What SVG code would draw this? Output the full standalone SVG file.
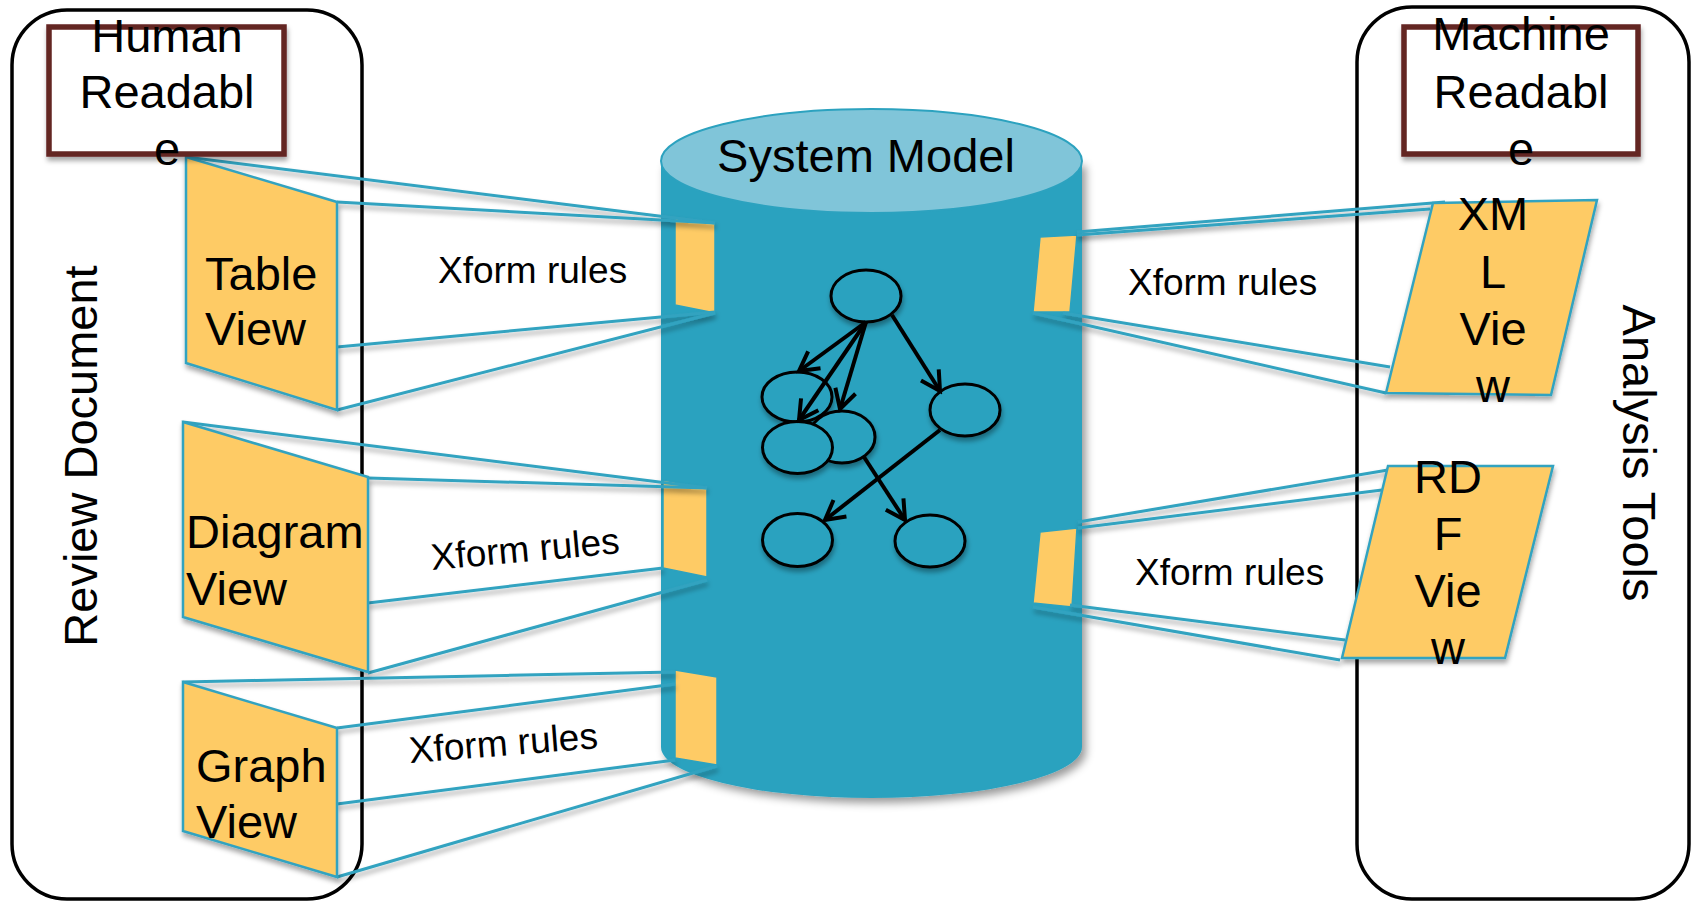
<svg xmlns="http://www.w3.org/2000/svg" width="1691" height="902" viewBox="0 0 1691 902">
<defs>
<filter id="sh" filterUnits="userSpaceOnUse" x="0" y="0" width="1691" height="902"><feDropShadow dx="1" dy="4" stdDeviation="2.5" flood-color="#000" flood-opacity="0.35"/></filter>
<filter id="shc" filterUnits="userSpaceOnUse" x="0" y="0" width="1691" height="902"><feDropShadow dx="4" dy="5" stdDeviation="4" flood-color="#000" flood-opacity="0.4"/></filter>
<marker id="arr" viewBox="-24 -15 28 30" refX="0" refY="0" markerWidth="28" markerHeight="30" markerUnits="userSpaceOnUse" orient="auto"><path d="M-19,-10.5 L0,0 L-19,10.5" fill="none" stroke="#000" stroke-width="4"/></marker>
</defs>
<style>
text{font-family:"Liberation Sans",Arial,sans-serif;fill:#000}
.big{font-size:47px}
.xf{font-size:37px}
.mid{text-anchor:middle}
.cont{fill:none;stroke:#000;stroke-width:3.5}
.box{fill:#fff;stroke:#632523;stroke-width:5.5}
.view{fill:#fecb65;stroke:#33a3c0;stroke-width:2.5}
.port{fill:#fecb65;stroke:#2ca2bf;stroke-width:1.5}
.ln{stroke:#33a3c0;stroke-width:3;fill:none}
.nd{fill:#2ca2bf;stroke:#000;stroke-width:3}
.ar{stroke:#000;stroke-width:4;fill:none;marker-end:url(#arr)}
</style>
<rect width="1691" height="902" fill="#fff"/>

<g id="review-document">
<rect class="cont" x="12" y="10" width="350" height="889" rx="55" ry="55"/>
<text class="big mid" transform="translate(97,456) rotate(-90)">Review Document</text>
</g>
<g id="analysis-tools">
<rect class="cont" x="1357" y="7" width="332" height="892" rx="55" ry="55"/>
<text class="big mid" transform="translate(1623,453) rotate(90)">Analysis Tools</text>
</g>

<g id="system-model">
<path d="M661,161 L661,747 A210.5,51 0 0 0 1082,747 L1082,161 Z" fill="#2ca2bf" filter="url(#shc)"/>
<ellipse cx="871.5" cy="161" rx="210.5" ry="52" fill="#80c5d9" stroke="#2ca2bf" stroke-width="2"/>
<text class="big mid" x="866" y="172">System Model</text>
</g>

<g id="model-nodes" filter="url(#sh)">
<ellipse id="n1" class="nd" cx="866" cy="296" rx="35" ry="26"/>
<ellipse id="n3" class="nd" cx="842" cy="437" rx="33" ry="26"/>
<ellipse id="n2" class="nd" cx="797" cy="397" rx="35" ry="25"/>
<ellipse id="n4" class="nd" cx="797.5" cy="447.5" rx="35" ry="26"/>
<ellipse id="n5" class="nd" cx="965" cy="410" rx="35" ry="26"/>
<ellipse id="n6" class="nd" cx="797.5" cy="540" rx="35" ry="26.5"/>
<ellipse id="n7" class="nd" cx="930" cy="541" rx="35" ry="26"/>
</g>

<g id="ports">
<polygon id="port-table" class="port" points="675,217 715,223 715,313 675,305"/>
<polygon id="port-diagram" class="port" points="663,480 707,488 707,577 663,568"/>
<polygon id="port-graph" class="port" points="675,670 717,677 717,765 675,758"/>
<polygon id="port-xml" class="port" points="1040,237 1077,235 1070,312 1033,312"/>
<polygon id="port-rdf" class="port" points="1040,532 1077,528 1072,607 1033,603"/>
</g>

<g id="connectors">
<g filter="url(#sh)">
<line class="ln" x1="186" y1="157" x2="715" y2="223"/>
<line class="ln" x1="337" y1="202" x2="715" y2="223"/>
<line class="ln" x1="337" y1="347" x2="715" y2="312"/>
<line class="ln" x1="337" y1="410" x2="715" y2="313"/>
<line class="ln" x1="183" y1="422" x2="707" y2="488"/>
<line class="ln" x1="368" y1="478" x2="707" y2="488"/>
<line class="ln" x1="368" y1="603" x2="663" y2="568"/>
<line class="ln" x1="368" y1="673" x2="707" y2="580"/>
<line class="ln" x1="183" y1="682" x2="675" y2="672"/>
<line class="ln" x1="337" y1="728" x2="675" y2="684"/>
<line class="ln" x1="337" y1="804" x2="675" y2="760"/>
<line class="ln" x1="337" y1="877" x2="717" y2="766"/>
<line class="ln" x1="1077" y1="232" x2="1445" y2="202"/>
<line class="ln" x1="1077" y1="235" x2="1430" y2="209"/>
<line class="ln" x1="1063" y1="313" x2="1390" y2="367"/>
<line class="ln" x1="1033" y1="313" x2="1386" y2="393"/>
<line class="ln" x1="1078" y1="522" x2="1388" y2="470"/>
<line class="ln" x1="1078" y1="528" x2="1382" y2="490"/>
<line class="ln" x1="1070" y1="605" x2="1345" y2="640"/>
<line class="ln" x1="1033" y1="607" x2="1340" y2="660"/>
</g>
<g id="model-arrows">
<line class="ar" x1="866" y1="322" x2="799" y2="371"/>
<line class="ar" x1="866" y1="322" x2="799" y2="420"/>
<line class="ar" x1="866" y1="322" x2="840" y2="409"/>
<line class="ar" x1="892" y1="315" x2="940" y2="391"/>
<line class="ar" x1="940" y1="430" x2="825" y2="520"/>
<line class="ar" x1="864" y1="457" x2="905" y2="520"/>
</g>
</g>

<g id="table-view">
<polygon class="view" points="186,157 337,202 337,410 186,363" filter="url(#sh)"/>
<text class="big" x="205" y="290">Table</text>
<text class="big" x="205" y="345">View</text>
</g>
<g id="diagram-view">
<polygon class="view" points="183,422 368,477 368,672 183,617" filter="url(#sh)"/>
<text class="big" x="186" y="548">Diagram</text>
<text class="big" x="186" y="605">View</text>
</g>
<g id="graph-view">
<polygon class="view" points="183,682 337,728 337,877 183,831" filter="url(#sh)"/>
<text class="big" x="196" y="782">Graph</text>
<text class="big" x="196" y="838">View</text>
</g>
<g id="xml-view">
<polygon class="view" points="1433,203 1597,200 1551,395 1386,393" filter="url(#sh)"/>
<text class="big mid" x="1493" y="230">XM</text>
<text class="big mid" x="1493" y="288">L</text>
<text class="big mid" x="1493" y="345">Vie</text>
<text class="big mid" x="1493" y="402">w</text>
</g>
<g id="rdf-view">
<polygon class="view" points="1388,466 1553,466 1505,658 1342,658" filter="url(#sh)"/>
<text class="big mid" x="1448" y="493">RD</text>
<text class="big mid" x="1448" y="550">F</text>
<text class="big mid" x="1448" y="607">Vie</text>
<text class="big mid" x="1448" y="664">w</text>
</g>

<g id="human-readable">
<rect class="box" x="49" y="27" width="235" height="127" filter="url(#sh)"/>
<text class="big mid" x="167" y="52">Human</text>
<text class="big mid" x="167" y="108">Readabl</text>
<text class="big mid" x="167" y="165">e</text>
</g>
<g id="machine-readable">
<rect class="box" x="1404" y="27" width="234" height="127" filter="url(#sh)"/>
<text class="big mid" x="1521" y="50">Machine</text>
<text class="big mid" x="1521" y="108">Readabl</text>
<text class="big mid" x="1521" y="165">e</text>
</g>

<g id="xform-labels">
<text class="xf" x="438" y="283">Xform rules</text>
<text class="xf" x="432" y="570" transform="rotate(-5.1 432 570)">Xform rules</text>
<text class="xf" x="410" y="763" transform="rotate(-4.5 410 763)">Xform rules</text>
<text class="xf" x="1128" y="295">Xform rules</text>
<text class="xf" x="1135" y="585">Xform rules</text>
</g>
</svg>
